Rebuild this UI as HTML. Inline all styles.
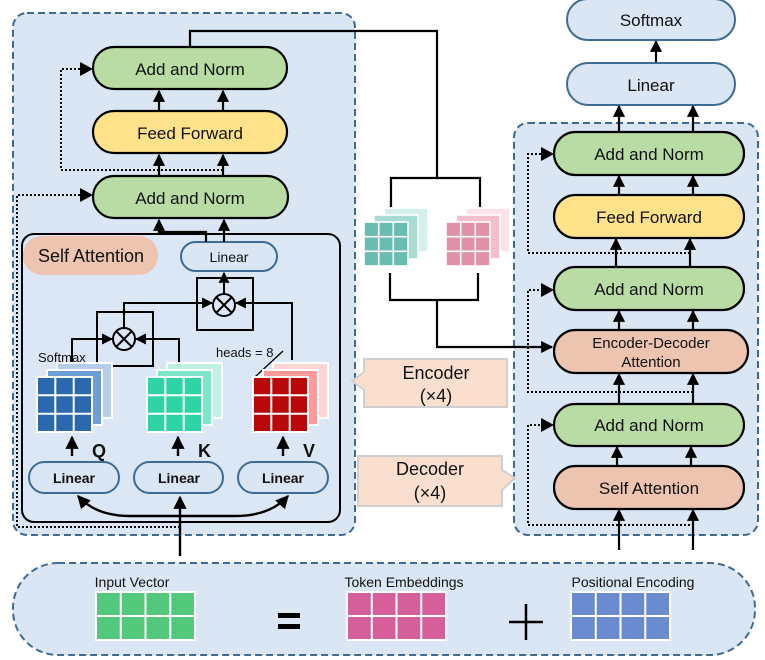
<!DOCTYPE html>
<html><head><meta charset="utf-8"><style>
html,body{margin:0;padding:0;background:#fff}
svg{display:block}
text{font-family:"Liberation Sans",Arial,sans-serif;fill:#111}
</style></head><body>
<svg width="765" height="660" viewBox="0 0 765 660" xmlns="http://www.w3.org/2000/svg">
<defs>
<marker id="a" viewBox="0 0 10 10" refX="9" refY="5" markerWidth="5.5" markerHeight="5.5" orient="auto-start-reverse"><path d="M0,0L10,5L0,10z" fill="#000"/></marker>
</defs>

<rect x="13" y="13" width="342" height="522" rx="14" fill="#dae6f4" stroke="#3f6a94" stroke-width="2" stroke-dasharray="7,4"/>
<rect x="514" y="123" width="244" height="412" rx="14" fill="#dae6f4" stroke="#3f6a94" stroke-width="2" stroke-dasharray="7,4"/>
<rect x="13" y="563" width="742" height="92" rx="45" fill="#dae6f4" stroke="#3f6a94" stroke-width="2" stroke-dasharray="7,4"/>

<g stroke="#000" stroke-width="2.2">
<rect x="93" y="47" width="194" height="42" rx="21" fill="#b9dca5"/>
<rect x="93" y="111" width="194" height="42" rx="21" fill="#ffe28a"/>
<rect x="93" y="176" width="195" height="42" rx="21" fill="#b9dca5"/>
</g>
<text x="190" y="75" font-size="17" text-anchor="middle">Add and Norm</text>
<text x="190" y="139" font-size="17" text-anchor="middle">Feed Forward</text>
<text x="190" y="204" font-size="17" text-anchor="middle">Add and Norm</text>

<g stroke="#000" stroke-width="2.2" fill="none">
<line x1="159" y1="111" x2="159" y2="91" marker-end="url(#a)"/>
<line x1="223" y1="111" x2="223" y2="91" marker-end="url(#a)"/>
<line x1="159" y1="176" x2="159" y2="155" marker-end="url(#a)"/>
<line x1="223" y1="176" x2="223" y2="155" marker-end="url(#a)"/>
</g>
<g stroke="#000" stroke-width="2" fill="none" stroke-dasharray="2,2">
<polyline points="223,170 61,170 61,69 82,69"/>
<polyline points="180,527 17,527 17,195 82,195"/>
</g>
<path d="M80,62L93,69L80,76z M80,188L93,195L80,202z"/>

<rect x="22" y="234" width="318" height="288" rx="12" fill="#dbe7f5" stroke="#000" stroke-width="2"/>
<rect x="23" y="236" width="135" height="39" rx="19" fill="#ecc4b0"/>
<text x="91" y="262" font-size="18" text-anchor="middle">Self Attention</text>
<rect x="181" y="242" width="96" height="29" rx="14.5" fill="#dae6f4" stroke="#3f6a94" stroke-width="2"/>
<text x="229" y="262" font-size="14" text-anchor="middle">Linear</text>
<g stroke="#000" stroke-width="2.2" fill="none">
<polyline points="206,242 206,232 159,232 159,220" marker-end="url(#a)"/>
<line x1="224" y1="242" x2="224" y2="220" marker-end="url(#a)"/>
</g>

<g stroke="#000" stroke-width="2" fill="none">
<rect x="197" y="278" width="56" height="52"/>
<rect x="97" y="312" width="56" height="54"/>
<circle cx="224" cy="305" r="11"/>
<line x1="216" y1="297" x2="232" y2="313"/><line x1="232" y1="297" x2="216" y2="313"/>
<circle cx="124" cy="339" r="11"/>
<line x1="116" y1="331" x2="132" y2="347"/><line x1="132" y1="331" x2="116" y2="347"/>
<line x1="224" y1="294" x2="224" y2="273" marker-end="url(#a)"/>
<polyline points="124,328 124,303 212,303" marker-end="url(#a)"/>
<polyline points="292,360 292,303 236,303" marker-end="url(#a)"/>
<polyline points="72,370 72,339 112,339" marker-end="url(#a)"/>
<polyline points="179,366 179,339 136,339" marker-end="url(#a)"/>
</g>
<text x="38" y="362" font-size="13">Softmax</text>
<text x="216" y="357" font-size="13">heads = 8</text>
<polyline points="283,351 256,376 258,383" stroke="#000" stroke-width="1.3" fill="none"/>

<g stroke="#fff" stroke-width="2">
<rect x="57" y="363" width="55" height="55" fill="#b5cdeb"/>
<rect x="47" y="370" width="55" height="55" fill="#6e9fd6"/>
<rect x="37" y="377" width="55" height="55" fill="#2c68ad"/>
<path d="M55.3,377V432M73.7,377V432M37,395.3H92M37,413.7H92"/>
<rect x="167" y="363" width="55" height="55" fill="#bff0e2"/>
<rect x="157" y="370" width="55" height="55" fill="#7ee6c8"/>
<rect x="147" y="377" width="55" height="55" fill="#2fd4a5"/>
<path d="M165.3,377V432M183.7,377V432M147,395.3H202M147,413.7H202"/>
<rect x="273" y="363" width="55" height="55" fill="#ffd6d6"/>
<rect x="263" y="370" width="55" height="55" fill="#ff9a9a"/>
<rect x="253" y="377" width="55" height="55" fill="#b80808"/>
<path d="M271.3,377V432M289.7,377V432M253,395.3H308M253,413.7H308"/>
</g>
<g stroke="#000" stroke-width="2.4" fill="none">
<line x1="72" y1="456" x2="72" y2="437" marker-end="url(#a)"/>
<line x1="178" y1="456" x2="178" y2="437" marker-end="url(#a)"/>
<line x1="283" y1="456" x2="283" y2="437" marker-end="url(#a)"/>
</g>
<text x="92" y="457" font-size="18" font-weight="bold">Q</text>
<text x="198" y="457" font-size="18" font-weight="bold">K</text>
<text x="303" y="457" font-size="18" font-weight="bold">V</text>
<g fill="#dae6f4" stroke="#3f6a94" stroke-width="2">
<rect x="29" y="462" width="90" height="31" rx="15.5"/>
<rect x="134" y="462" width="89" height="31" rx="15.5"/>
<rect x="238" y="462" width="90" height="31" rx="15.5"/>
</g>
<g font-size="14" font-weight="bold" text-anchor="middle">
<text x="74" y="483">Linear</text><text x="179" y="483">Linear</text><text x="283" y="483">Linear</text>
</g>
<g stroke="#000" stroke-width="2.4" fill="none">
<line x1="180" y1="556" x2="180" y2="497" marker-end="url(#a)"/>
<path d="M78,496 Q96,516 130,516 L235,516 Q270,516 288,496" marker-start="url(#a)" marker-end="url(#a)"/>
</g>

<g stroke="#000" stroke-width="2.2" fill="none">
<polyline points="190,47 190,31 437,31 437,178"/>
<polyline points="391,207 391,178 480,178 480,207"/>
<polyline points="390,273 390,300 478,300 478,273"/>
<polyline points="437,300 437,347 552,347" marker-end="url(#a)"/>
</g>
<g stroke="#fff" stroke-width="1.6">
<rect x="384" y="208" width="44" height="44" fill="#d5efea"/>
<rect x="374" y="215" width="44" height="44" fill="#a7dcd2"/>
<rect x="364" y="222" width="44" height="44" fill="#69bcb0"/>
<path d="M378.7,222V266M393.3,222V266M364,236.7H408M364,251.3H408"/>
<rect x="466" y="208" width="44" height="44" fill="#fbe3ea"/>
<rect x="456" y="215" width="44" height="44" fill="#f3bfcd"/>
<rect x="446" y="222" width="44" height="44" fill="#e292a8"/>
<path d="M460.7,222V266M475.3,222V266M446,236.7H490M446,251.3H490"/>
</g>

<path d="M364,359H507V407H364V390L352,381L364,372Z" fill="#fadfcf" stroke="#cfcfcf" stroke-width="2"/>
<text x="436" y="379" font-size="18" text-anchor="middle">Encoder</text>
<text x="436" y="402" font-size="18" text-anchor="middle">(×4)</text>
<path d="M358,456H502V470L515,478L502,490V506H358Z" fill="#fadfcf" stroke="#cfcfcf" stroke-width="2"/>
<text x="430" y="475" font-size="18" text-anchor="middle">Decoder</text>
<text x="430" y="499" font-size="18" text-anchor="middle">(×4)</text>

<g stroke="#000" stroke-width="2.2">
<rect x="554" y="132" width="190" height="43" rx="21.5" fill="#b9dca5"/>
<rect x="554" y="195" width="190" height="43" rx="21.5" fill="#ffe28a"/>
<rect x="554" y="267" width="190" height="43" rx="21.5" fill="#b9dca5"/>
<rect x="554" y="330" width="194" height="43" rx="21.5" fill="#ecc4b0"/>
<rect x="554" y="404" width="190" height="42" rx="21" fill="#b9dca5"/>
<rect x="554" y="466" width="190" height="43" rx="21.5" fill="#ecc4b0"/>
</g>
<g font-size="17" text-anchor="middle">
<text x="649" y="160">Add and Norm</text>
<text x="649" y="223">Feed Forward</text>
<text x="649" y="295">Add and Norm</text>
<text x="651" y="348" font-size="15">Encoder-Decoder</text>
<text x="651" y="367" font-size="15">Attention</text>
<text x="649" y="431">Add and Norm</text>
<text x="649" y="494">Self Attention</text>
</g>
<g stroke="#000" stroke-width="2.2" fill="none">
<line x1="619" y1="195" x2="619" y2="176" marker-end="url(#a)"/>
<line x1="693" y1="195" x2="693" y2="176" marker-end="url(#a)"/>
<line x1="616" y1="267" x2="616" y2="239" marker-end="url(#a)"/>
<line x1="690" y1="267" x2="690" y2="239" marker-end="url(#a)"/>
<line x1="619" y1="330" x2="619" y2="311" marker-end="url(#a)"/>
<line x1="693" y1="330" x2="693" y2="311" marker-end="url(#a)"/>
<line x1="619" y1="404" x2="619" y2="374" marker-end="url(#a)"/>
<line x1="693" y1="404" x2="693" y2="374" marker-end="url(#a)"/>
<line x1="617" y1="466" x2="617" y2="447" marker-end="url(#a)"/>
<line x1="691" y1="466" x2="691" y2="447" marker-end="url(#a)"/>
<line x1="619" y1="550" x2="619" y2="510" marker-end="url(#a)"/>
<line x1="693" y1="550" x2="693" y2="510" marker-end="url(#a)"/>
<line x1="619" y1="132" x2="619" y2="106" marker-end="url(#a)"/>
<line x1="693" y1="132" x2="693" y2="106" marker-end="url(#a)"/>
<line x1="656" y1="63" x2="656" y2="41" marker-end="url(#a)"/>
</g>
<g stroke="#000" stroke-width="2" fill="none" stroke-dasharray="2,2">
<polyline points="690,253 528,253 528,154 543,154"/>
<polyline points="693,392 528,392 528,290 543,290"/>
<polyline points="690,525 528,525 528,425 543,425"/>
</g>
<path d="M541,147L554,154L541,161z M541,283L554,290L541,297z M541,418L554,425L541,432z"/>

<g fill="#dae6f4" stroke="#3f6a94" stroke-width="2">
<rect x="567" y="63" width="168" height="42" rx="21"/>
<rect x="567" y="-1" width="168" height="41" rx="20.5"/>
</g>
<text x="651" y="91" font-size="17" text-anchor="middle">Linear</text>
<text x="651" y="26" font-size="17" text-anchor="middle">Softmax</text>

<g font-size="14" text-anchor="middle">
<text x="132" y="587">Input Vector</text>
<text x="404" y="587">Token Embeddings</text>
<text x="633" y="587">Positional Encoding</text>
</g>
<g stroke="#fff" stroke-width="2">
<rect x="96" y="592" width="99" height="48" fill="#52c97a"/>
<path d="M120.75,592V640M145.5,592V640M170.25,592V640M96,616H195"/>
<rect x="347" y="592" width="99" height="48" fill="#d45f9a"/>
<path d="M371.75,592V640M396.5,592V640M421.25,592V640M347,616H446"/>
<rect x="571" y="592" width="99" height="48" fill="#6a8bcf"/>
<path d="M595.75,592V640M620.5,592V640M645.25,592V640M571,616H670"/>
</g>
<rect x="278" y="613" width="22" height="5" fill="#000"/>
<rect x="278" y="624" width="22" height="5" fill="#000"/>
<g stroke="#000" stroke-width="2.5"><line x1="509" y1="622" x2="543" y2="622"/><line x1="526" y1="604" x2="526" y2="640"/></g>
</svg>
</body></html>
